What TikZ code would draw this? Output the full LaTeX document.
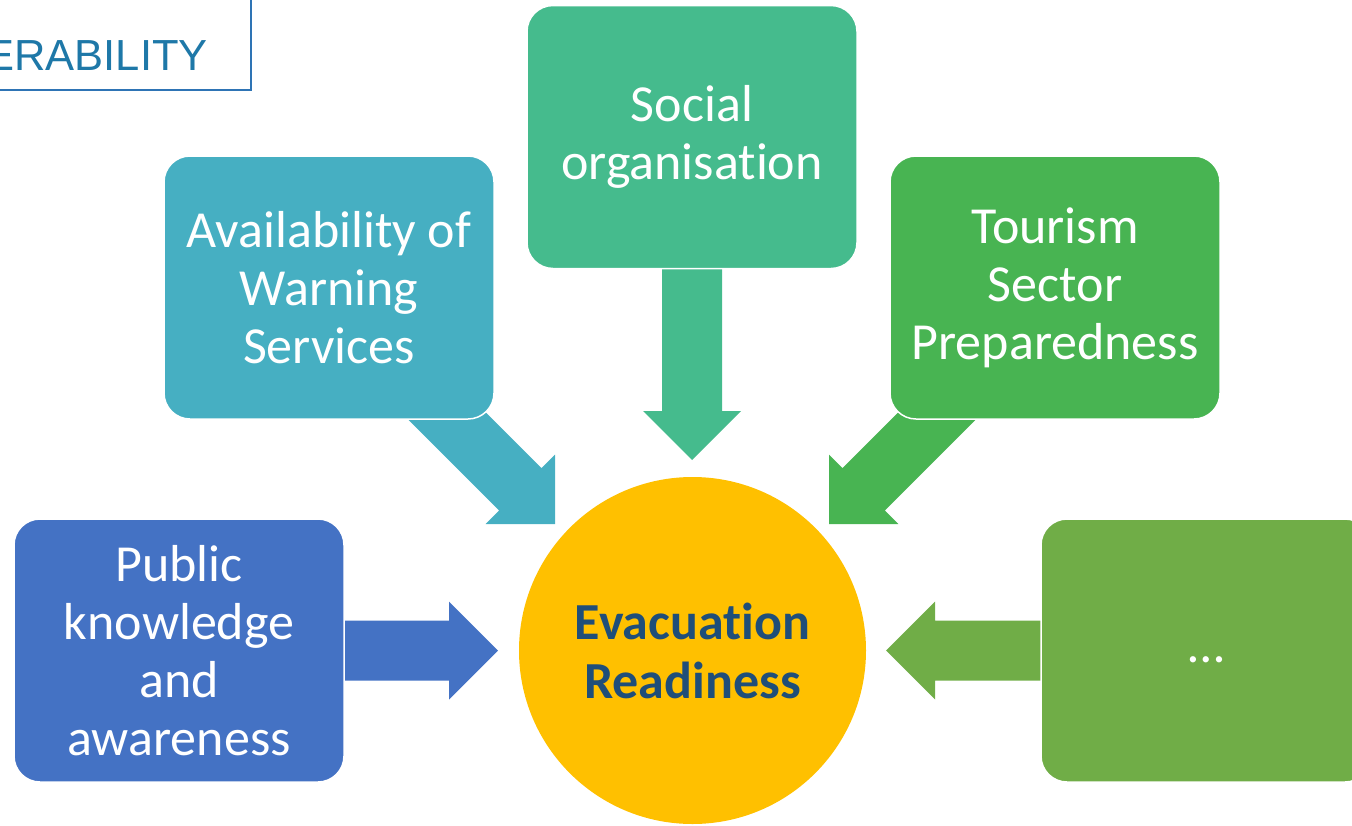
\documentclass[tikz,border=0pt]{standalone}
\usepackage{fontspec}
\setmainfont{Carlito}[Ligatures={NoCommon,NoContextual}]
\newfontfamily\arialfont{Liberation Sans}
\usetikzlibrary{calc}
\pgfdeclarelayer{bg}
\pgfsetlayers{bg,main}
\definecolor{cPublic}{HTML}{4472C4}
\definecolor{cAvail}{HTML}{46AFC2}
\definecolor{cSocial}{HTML}{45BB8D}
\definecolor{cTour}{HTML}{48B452}
\definecolor{cMore}{HTML}{70AD47}
\definecolor{cEvac}{HTML}{FFC000}
\definecolor{cEvacTxt}{HTML}{1F4E79}
\definecolor{cTitle}{HTML}{1E78A8}
\definecolor{cTitleBox}{HTML}{2E74B5}
\newcommand{\blockarrow}[3]{%
  \coordinate (bah) at ($(#3)!49pt!(#2)$);
  \fill[#1] ($(#2)!30pt!90:(#3)$) -- ($(bah)!30pt!90:(#3)$) -- ($(bah)!49pt!90:(#3)$) -- (#3)
    -- ($(bah)!49pt!-90:(#3)$) -- ($(bah)!30pt!-90:(#3)$) -- ($(#2)!30pt!-90:(#3)$) -- cycle;}
\newcommand{\noti}{t\kern0pt i}
\tikzset{
  box/.style={rectangle, rounded corners=26pt, minimum width=330pt, minimum height=263pt,
    draw=white, line width=1.5pt, text=white, align=center, inner sep=0pt,
    font=\fontsize{52}{58}\selectfont},
}
\begin{document}
\begin{tikzpicture}[x=1pt,y=-1pt]
\useasboundingbox (0,0) rectangle (1352,825);
\clip (0,0) rectangle (1352,825);
% title fragment
\node[draw=cTitleBox, line width=2pt, fill=white, minimum width=271pt, minimum height=110pt, inner sep=0pt] (tl) at (115.5,35) {};
\node[anchor=base east, inner sep=0pt, text=cTitle, font=\arialfont\fontsize{43.5}{50}\selectfont] (tltext) at (208,70) {VULNERABILITY};
% boxes
\node[box, fill=cAvail] (avail) at (329,287.5) {Availability of\\Warning\\Services};
\node[box, fill=cSocial] (social) at (692,137) {Social\\organisa\noti on};
\node[box, fill=cTour] (tourism) at (1055,287.5) {Tourism\\Sector\\Preparedness};
\node[box, fill=cPublic] (public) at (179,650.5) {Public\\knowledge\\and\\awareness};
\node[box, fill=cMore] (more) at (1206,650.5) {\strut…};
\node[circle, fill=cEvac, minimum size=347pt, inner sep=0pt, text=cEvacTxt, align=center,
  font=\bfseries\fontsize{52}{59}\selectfont] (evac) at (692.5,650.5) {Evacua\noti on\\Readiness};
% arrows
\coordinate (tipP) at (498,650.5);
\coordinate (tipM) at (886,650.5);
\coordinate (tipS) at (692,460);
\coordinate (tipA) at (555,524);
\coordinate (tailA) at (355,324);
\coordinate (tipT) at (829,524);
\coordinate (tailT) at (1029,324);
\begin{pgfonlayer}{bg}
\blockarrow{cPublic}{public.center}{tipP}
\blockarrow{cMore}{more.center}{tipM}
\blockarrow{cSocial}{social.center}{tipS}
\blockarrow{cAvail}{tailA}{tipA}
\blockarrow{cTour}{tailT}{tipT}
\end{pgfonlayer}
\end{tikzpicture}
\end{document}
